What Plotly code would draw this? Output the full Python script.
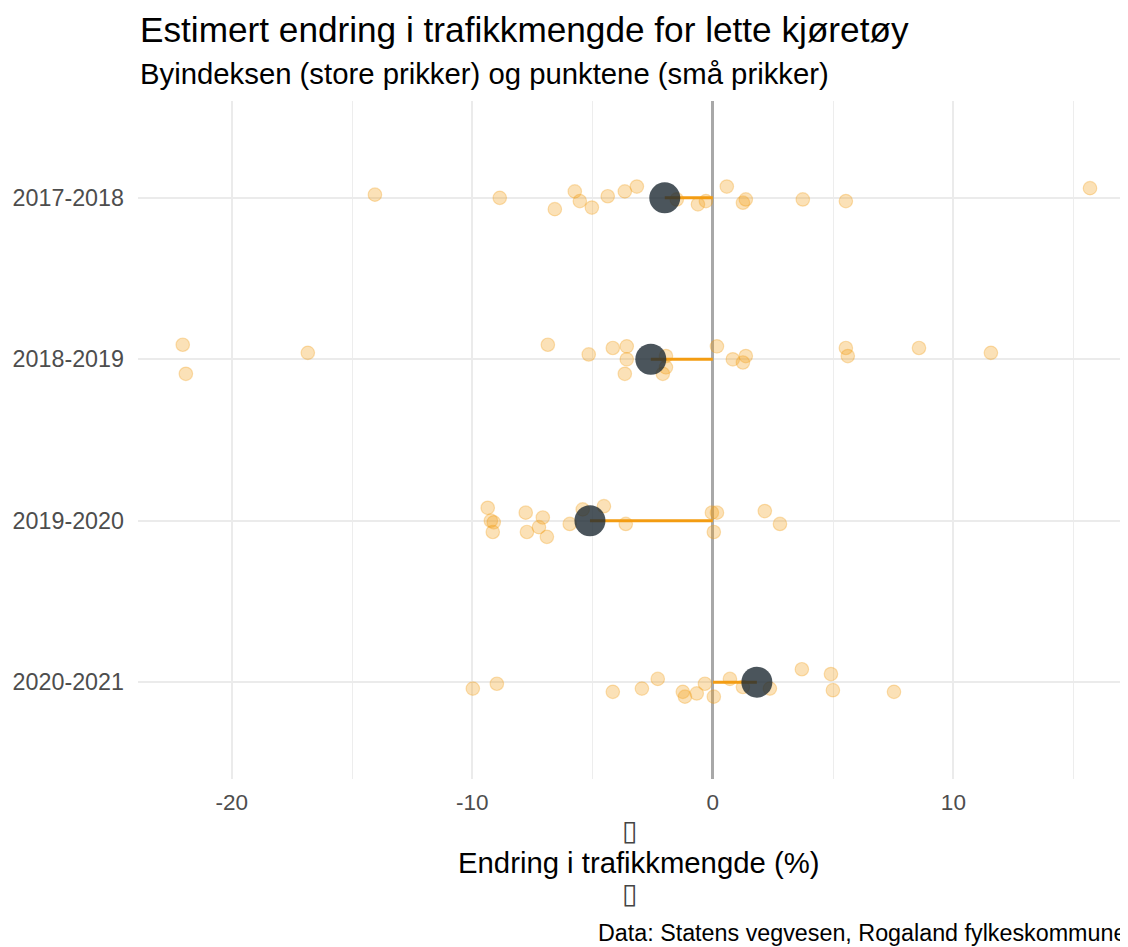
import plotly.graph_objects as go

categories = ["2017-2018", "2018-2019", "2019-2020", "2020-2021"]

# Byindeks (large dots)
city_index = [-2.0, -2.58, -5.11, 1.83]

# Point values (small dots) and their vertical jitter (category units)
p2017_x = [-14.05, -8.86, -6.57, -5.74, -5.53, -5.03, -4.37, -3.66, -3.16, -1.50,
           -0.62, -0.29, 0.58, 1.25, 1.37, 3.74, 5.53, 15.68]
p2017_j = [-0.02, 0.0, 0.07, -0.04, 0.02, 0.06, -0.01, -0.04, -0.07, 0.01,
           0.04, 0.02, -0.07, 0.03, 0.01, 0.01, 0.02, -0.06]

p2018_x = [-22.04, -21.91, -16.84, -6.86, -5.16, -4.16, -3.58, -3.58, -3.66, -1.95,
           -1.95, -2.08, 0.17, 0.83, 1.37, 1.25, 5.53, 5.61, 8.57, 11.56]
p2018_j = [-0.09, 0.09, -0.04, -0.09, -0.03, -0.07, -0.08, 0.0, 0.09, -0.02,
           0.05, 0.09, -0.08, 0.0, -0.02, 0.02, -0.07, -0.02, -0.07, -0.04]

p2019_x = [-9.36, -9.23, -9.11, -9.15, -7.78, -7.73, -7.07, -7.23, -6.90, -5.95,
           -5.41, -4.53, -3.62, -0.04, 0.17, 0.04, 2.16, 2.79]
p2019_j = [-0.08, 0.0, 0.01, 0.07, -0.05, 0.07, -0.02, 0.04, 0.10, 0.02,
           -0.07, -0.09, 0.02, -0.05, -0.05, 0.07, -0.06, 0.02]

p2020_x = [-9.98, -8.98, -4.16, -2.95, -2.29, -1.25, -1.16, -0.67, -0.33, 0.04,
           0.71, 1.25, 2.37, 3.70, 4.91, 4.99, 7.53]
p2020_j = [0.04, 0.01, 0.06, 0.04, -0.02, 0.06, 0.09, 0.07, 0.01, 0.09,
           -0.02, 0.03, 0.04, -0.08, -0.05, 0.05, 0.06]

points_x = [p2017_x, p2018_x, p2019_x, p2020_x]
points_j = [p2017_j, p2018_j, p2019_j, p2020_j]

x_ticks = [-20, -10, 0, 10]

FONT = "Liberation Sans, Arial, sans-serif"
ORANGE = "243,156,18"

# page body has an 8px margin; figure laid out so the screenshot lines up
W, H = 1120, 939
ML, MT, MB = 130, 93, 168
PW, PH = W - ML, H - MT - MB


def px(ref_x):
    return (ref_x - 8 - ML) / PW


def py(ref_y):
    return (H - MB - (ref_y - 8)) / PH


fig = go.Figure()

# small points
sx, sy = [], []
for i, (xs, js) in enumerate(zip(points_x, points_j)):
    for x, j in zip(xs, js):
        sx.append(x)
        sy.append(i + j)
fig.add_trace(go.Scatter(
    x=sx, y=sy, mode="markers",
    marker=dict(size=13.5, color=f"rgba({ORANGE},0.3)",
                line=dict(color=f"rgba({ORANGE},0.3)", width=1.2)),
    hoverinfo="x", showlegend=False))

# segments from index to zero
lx, ly = [], []
for i, v in enumerate(city_index):
    lx += [v, 0, None]
    ly += [i, i, None]
fig.add_trace(go.Scatter(x=lx, y=ly, mode="lines",
                         line=dict(color=f"rgb({ORANGE})", width=3),
                         hoverinfo="skip", showlegend=False))

# big dots
fig.add_trace(go.Scatter(
    x=city_index, y=list(range(len(categories))), mode="markers",
    marker=dict(size=31, color="rgba(30,42,51,0.8)", line=dict(width=0)),
    hoverinfo="x", showlegend=False))

fig.update_layout(
    width=W, height=H,
    margin=dict(l=ML, r=0, t=MT, b=MB, pad=0),
    paper_bgcolor="white", plot_bgcolor="white",
    font=dict(family=FONT, color="#4d4d4d"),
    xaxis=dict(
        range=[-23.9, 17.26], tickvals=x_ticks, ticktext=[str(t) for t in x_ticks],
        showgrid=True, gridcolor="#ebebeb", gridwidth=2,
        minor=dict(tickvals=[-15, -5, 5, 15], showgrid=True, gridcolor="#ededed", gridwidth=1),
        zeroline=True, zerolinecolor="#a8a8a8", zerolinewidth=2.5,
        showline=False, ticks="", tickfont=dict(size=22.5, color="#4d4d4d"),
        ticklabelstandoff=7, fixedrange=True),
    yaxis=dict(
        range=[3.6, -0.6], tickvals=list(range(len(categories))), ticktext=categories,
        showgrid=True, gridcolor="#ebebeb", gridwidth=2, zeroline=False,
        ticks="", tickfont=dict(size=23.3, color="#4d4d4d"), ticklabelstandoff=13),
)

# title and subtitle
fig.add_annotation(text="Estimert endring i trafikkmengde for lette kjøretøy",
                   x=px(138), y=py(29), xref="paper", yref="paper",
                   xanchor="left", yanchor="middle", showarrow=False,
                   font=dict(size=35.2, color="black", family=FONT))
fig.add_annotation(text="Byindeksen (store prikker) og punktene (små prikker)",
                   x=px(138), y=py(73), xref="paper", yref="paper",
                   xanchor="left", yanchor="middle", showarrow=False,
                   font=dict(size=29.3, color="black", family=FONT))

# axis title with the box glyphs above/below
fig.add_annotation(text="▯", x=px(629), y=py(830), xref="paper", yref="paper",
                   xanchor="center", yanchor="middle", showarrow=False,
                   font=dict(size=28, color="#444", family="DejaVu Sans"))
fig.add_annotation(text="Endring i trafikkmengde (%)", x=px(638), y=py(862),
                   xref="paper", yref="paper", xanchor="center", yanchor="middle",
                   showarrow=False, font=dict(size=29.3, color="black", family=FONT))
fig.add_annotation(text="▯", x=px(629), y=py(893), xref="paper", yref="paper",
                   xanchor="center", yanchor="middle", showarrow=False,
                   font=dict(size=28, color="#444", family="DejaVu Sans"))
fig.add_annotation(text="Data: Statens vegvesen, Rogaland fylkeskommune", x=1, y=py(933),
                   xref="paper", yref="paper", xanchor="right", yanchor="middle",
                   showarrow=False, font=dict(size=23.3, color="black", family=FONT))

fig.write_html("out.html")
